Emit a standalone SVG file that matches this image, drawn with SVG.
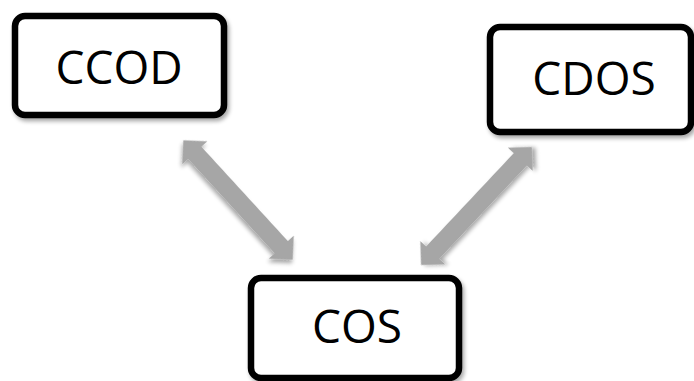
<svg xmlns="http://www.w3.org/2000/svg" width="694" height="381" viewBox="0 0 694 381">
  <defs>
    <filter id="sh" x="-20%" y="-20%" width="140%" height="140%">
      <feGaussianBlur in="SourceAlpha" stdDeviation="2"/>
      <feOffset dx="2" dy="3" result="b"/>
      <feComponentTransfer><feFuncA type="linear" slope="0.35"/></feComponentTransfer>
      <feMerge><feMergeNode/><feMergeNode in="SourceGraphic"/></feMerge>
    </filter>
    <polygon id="darrow" points="-81,0 -64,-17 -64,-9 64,-9 64,-17 81,0 64,17 64,9 -64,9 -64,17"/>
  </defs>
  <style>
    .box { fill: #ffffff; stroke: #000000; stroke-width: 6.5; filter: url(#sh); }
    .lbl { font-family: "Open Sans", "Noto Sans", sans-serif; font-size: 46px; fill: #000000; text-anchor: middle; }
    .arr { fill: #a6a6a6; filter: url(#sh); }
  </style>
  <rect width="694" height="381" fill="#ffffff"/>
  <g id="connectors">
    <use href="#darrow" class="arr" transform="translate(238,200) rotate(47.5)"/>
    <use href="#darrow" class="arr" transform="translate(476.5,206) rotate(-46.8)"/>
  </g>
  <g id="ccod">
    <rect class="box" x="15" y="16" width="209" height="99" rx="10"/>
    <text class="lbl" x="119" y="84">CCOD</text>
  </g>
  <g id="cdos">
    <rect class="box" x="490" y="27" width="201" height="105" rx="10"/>
    <text class="lbl" x="594" y="95">CDOS</text>
  </g>
  <g id="cos">
    <rect class="box" x="251" y="278" width="208" height="100" rx="10"/>
    <text class="lbl" x="357" y="343">COS</text>
  </g>
</svg>
